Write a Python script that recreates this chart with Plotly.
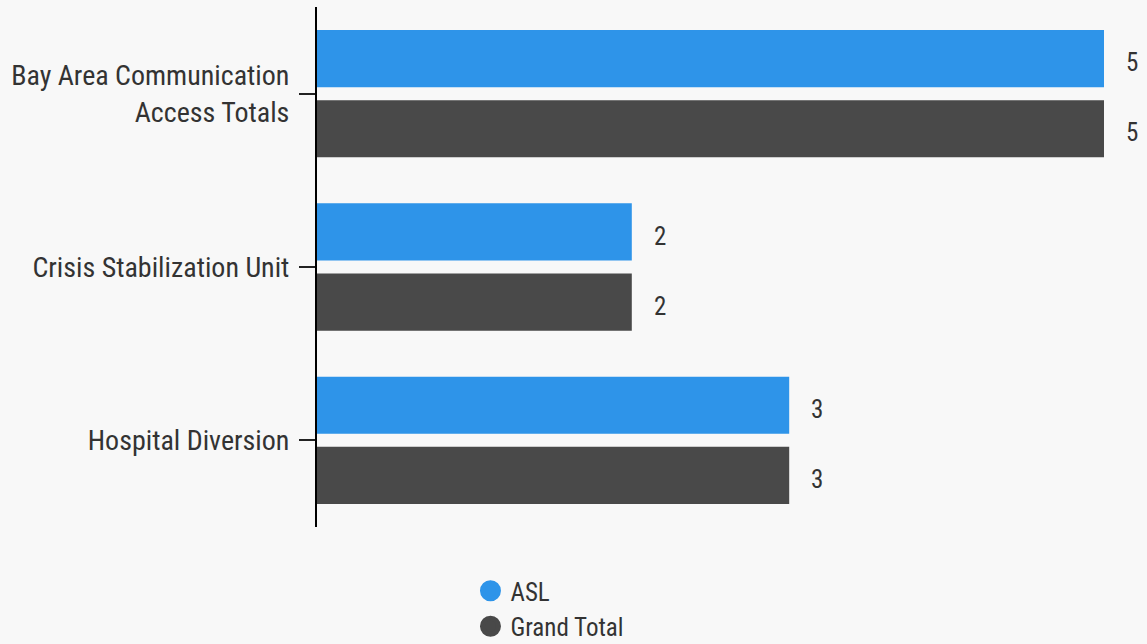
import plotly.graph_objects as go

categories = ["Bay Area Communication<br>Access Totals", "Crisis Stabilization Unit", "Hospital Diversion"]
asl = [5, 2, 3]
grand_total = [5, 2, 3]
series_names = ["ASL", "Grand Total"]
colors = ["#2E94E9", "#494949"]

FONT = "Roboto Condensed, Roboto, sans-serif"
TXT = "#333333"

fig = go.Figure()
for name, vals, col in zip(series_names, [asl, grand_total], colors):
    fig.add_trace(go.Bar(
        y=categories, x=vals, orientation="h", name=name,
        marker=dict(color=col, line=dict(width=0)),
        showlegend=False,
    ))
    fig.add_trace(go.Scatter(
        x=[None], y=[None], mode="markers", name=name,
        marker=dict(symbol="circle", size=16, color=col, line=dict(color=col, width=5)),
        showlegend=True,
    ))

annotations = []
for i, vals in enumerate([asl, grand_total]):
    for cat, v in zip(categories, vals):
        annotations.append(dict(
            x=v, y=cat, text=str(v), showarrow=False, xanchor="center",
            xshift=28, yshift=(31 if i == 0 else -39),
            font=dict(family=FONT, size=25, color=TXT),
        ))

fig.update_layout(
    barmode="group",
    bargap=0.19,
    bargroupgap=0.186,
    width=1147, height=644,
    paper_bgcolor="#F8F8F8", plot_bgcolor="#F8F8F8",
    margin=dict(l=317, r=43, t=7, b=117, pad=0),
    font=dict(family=FONT, size=28, color=TXT),
    annotations=annotations,
    legend=dict(
        orientation="v", x=0.195, xanchor="left",
        yref="container", y=0.118, yanchor="top",
        font=dict(family=FONT, size=25, color=TXT),
        bgcolor="rgba(0,0,0,0)", itemwidth=30, tracegroupgap=0,
    ),
    xaxis=dict(range=[0, 5], visible=False, showgrid=False, zeroline=False, fixedrange=True),
    yaxis=dict(
        autorange="reversed", showline=True, linecolor="#000000", linewidth=2,
        ticks="outside", ticklen=16, tickwidth=2, tickcolor="#222222",
        showgrid=False, zeroline=False, ticklabelstandoff=4,
        tickfont=dict(family=FONT, size=28, color=TXT),
    ),
)
fig.write_html("out.html", config={"displayModeBar": False},
               post_script="document.body.style.margin='0';document.body.style.overflow='hidden';")
